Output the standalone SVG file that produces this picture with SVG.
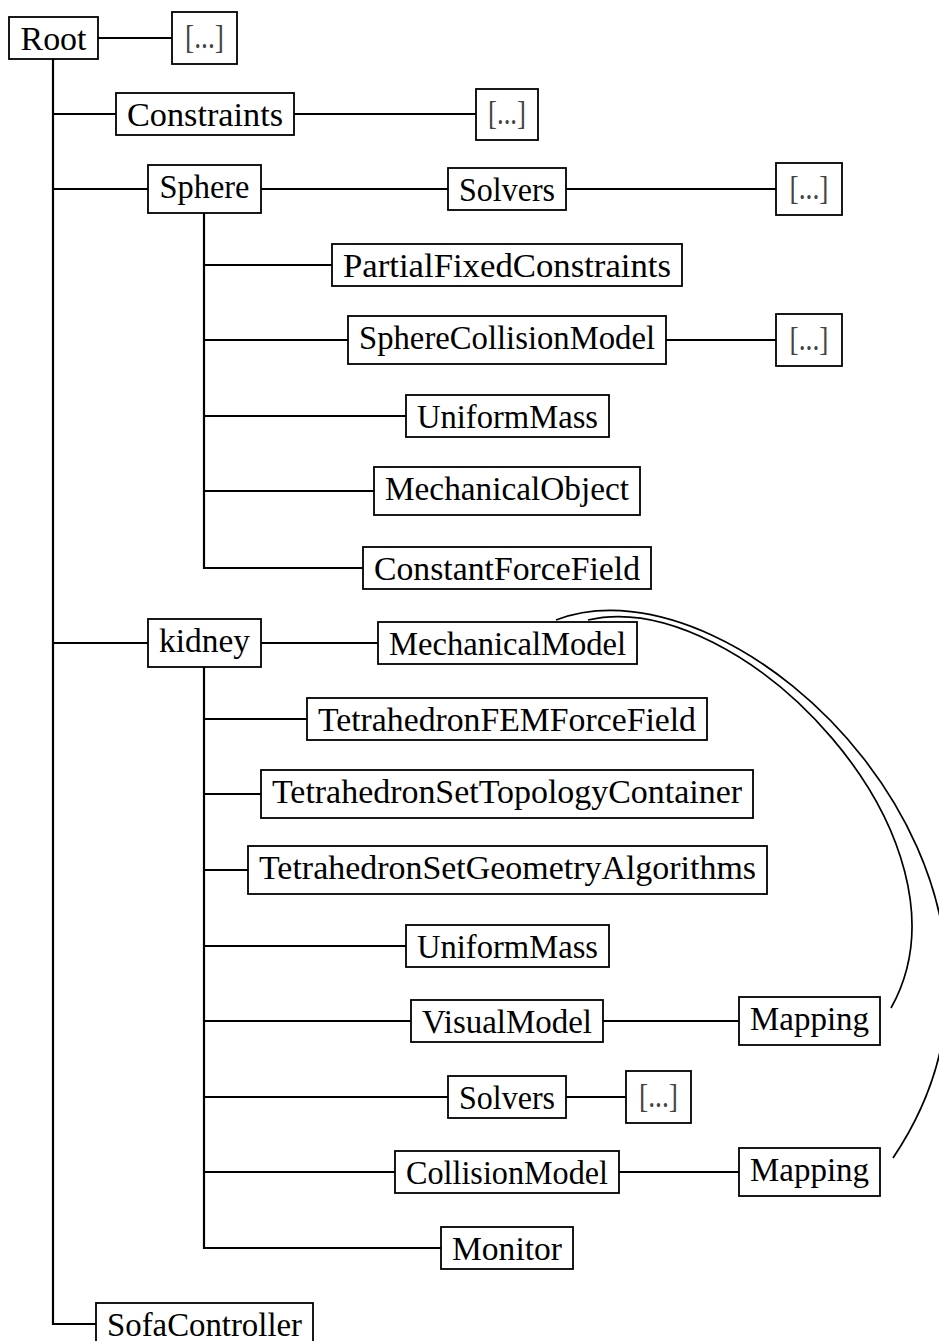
<svg xmlns="http://www.w3.org/2000/svg" width="939" height="1341" viewBox="0 0 939 1341">
<style>
.box{fill:#fff;stroke:#000;stroke-width:1.8}
.ln{fill:none;stroke:#000;stroke-width:2.2}
.cv{fill:none;stroke:#000;stroke-width:1.7}
.t{font-family:"Liberation Serif","Times New Roman",serif;font-size:33px;text-anchor:middle;fill:#000}
.d{font-family:"Liberation Serif","Times New Roman",serif;font-size:33px;text-anchor:middle;fill:#444}
</style>
<rect width="939" height="1341" fill="#fff"/>
<g id="connectors">
<path class="ln" d="M53,59 V1324 H96 M98,38 H172 M53,114 H116 M294,114 H476 M53,189 H148 M261,189 H448 M566,189 H776 M204,213 V568 H363 M204,265 H332 M204,340 H348 M666,340 H776 M204,416 H406 M204,491 H374 M53,643 H148 M261,643 H378 M204,667 V1248 H441 M204,719 H307 M204,794 H261 M204,870 H248 M204,946 H406 M204,1021 H411 M603,1021 H739 M204,1097 H448 M566,1097 H626 M204,1172 H395 M619,1172 H739"/>
<path class="cv" d="M588,620 C740,585 985,840 891,1008"/>
<path class="cv" d="M556,620 C740,550 1080,880 893,1158"/>
</g>
<g id="root"><rect class="box" x="9" y="17" width="89" height="42"/><text class="t" x="53.5" y="50" textLength="66" lengthAdjust="spacingAndGlyphs">Root</text></g>
<g id="root-more"><rect class="box" x="172" y="12" width="65" height="52"/><text class="d" x="204.5" y="48" textLength="39" lengthAdjust="spacingAndGlyphs">[...]</text></g>
<g id="constraints"><rect class="box" x="116" y="93" width="178" height="42"/><text class="t" x="205" y="126" textLength="156" lengthAdjust="spacingAndGlyphs">Constraints</text></g>
<g id="constraints-more"><rect class="box" x="476" y="89" width="62" height="51"/><text class="d" x="507" y="124" textLength="38" lengthAdjust="spacingAndGlyphs">[...]</text></g>
<g id="sphere"><rect class="box" x="148" y="165" width="113" height="48"/><text class="t" x="204.5" y="198" textLength="90" lengthAdjust="spacingAndGlyphs">Sphere</text></g>
<g id="sphere-solvers"><rect class="box" x="448" y="168" width="118" height="42"/><text class="t" x="507" y="201" textLength="96" lengthAdjust="spacingAndGlyphs">Solvers</text></g>
<g id="sphere-solvers-more"><rect class="box" x="776" y="163" width="66" height="52"/><text class="d" x="809" y="199" textLength="39" lengthAdjust="spacingAndGlyphs">[...]</text></g>
<g id="partial-fixed"><rect class="box" x="332" y="244" width="350" height="42"/><text class="t" x="507" y="277" textLength="328" lengthAdjust="spacingAndGlyphs">PartialFixedConstraints</text></g>
<g id="sphere-collision"><rect class="box" x="348" y="316" width="318" height="48"/><text class="t" x="507" y="349" textLength="296" lengthAdjust="spacingAndGlyphs">SphereCollisionModel</text></g>
<g id="sphere-collision-more"><rect class="box" x="776" y="314" width="66" height="52"/><text class="d" x="809" y="350" textLength="39" lengthAdjust="spacingAndGlyphs">[...]</text></g>
<g id="sphere-mass"><rect class="box" x="406" y="395" width="203" height="42"/><text class="t" x="507.5" y="428" textLength="181" lengthAdjust="spacingAndGlyphs">UniformMass</text></g>
<g id="sphere-mo"><rect class="box" x="374" y="467" width="266" height="48"/><text class="t" x="507" y="500" textLength="244" lengthAdjust="spacingAndGlyphs">MechanicalObject</text></g>
<g id="sphere-cff"><rect class="box" x="363" y="547" width="288" height="42"/><text class="t" x="507" y="580" textLength="266" lengthAdjust="spacingAndGlyphs">ConstantForceField</text></g>
<g id="kidney"><rect class="box" x="148" y="619" width="113" height="48"/><text class="t" x="204.5" y="652" textLength="91" lengthAdjust="spacingAndGlyphs">kidney</text></g>
<g id="kidney-mm"><rect class="box" x="378" y="622" width="259" height="42"/><text class="t" x="507.5" y="655" textLength="237" lengthAdjust="spacingAndGlyphs">MechanicalModel</text></g>
<g id="kidney-fem"><rect class="box" x="307" y="698" width="400" height="42"/><text class="t" x="507" y="731" textLength="378" lengthAdjust="spacingAndGlyphs">TetrahedronFEMForceField</text></g>
<g id="kidney-topo"><rect class="box" x="261" y="770" width="492" height="48"/><text class="t" x="507" y="803" textLength="470" lengthAdjust="spacingAndGlyphs">TetrahedronSetTopologyContainer</text></g>
<g id="kidney-geom"><rect class="box" x="248" y="846" width="519" height="48"/><text class="t" x="507.5" y="879" textLength="497" lengthAdjust="spacingAndGlyphs">TetrahedronSetGeometryAlgorithms</text></g>
<g id="kidney-mass"><rect class="box" x="406" y="925" width="203" height="42"/><text class="t" x="507.5" y="958" textLength="181" lengthAdjust="spacingAndGlyphs">UniformMass</text></g>
<g id="kidney-visual"><rect class="box" x="411" y="1000" width="192" height="42"/><text class="t" x="507" y="1033" textLength="170" lengthAdjust="spacingAndGlyphs">VisualModel</text></g>
<g id="visual-mapping"><rect class="box" x="739" y="997" width="141" height="48"/><text class="t" x="809.5" y="1030" textLength="119" lengthAdjust="spacingAndGlyphs">Mapping</text></g>
<g id="kidney-solvers"><rect class="box" x="448" y="1076" width="118" height="42"/><text class="t" x="507" y="1109" textLength="96" lengthAdjust="spacingAndGlyphs">Solvers</text></g>
<g id="kidney-solvers-more"><rect class="box" x="626" y="1071" width="65" height="52"/><text class="d" x="658.5" y="1107" textLength="39" lengthAdjust="spacingAndGlyphs">[...]</text></g>
<g id="kidney-collision"><rect class="box" x="395" y="1151" width="224" height="42"/><text class="t" x="507" y="1184" textLength="202" lengthAdjust="spacingAndGlyphs">CollisionModel</text></g>
<g id="collision-mapping"><rect class="box" x="739" y="1148" width="141" height="48"/><text class="t" x="809.5" y="1181" textLength="119" lengthAdjust="spacingAndGlyphs">Mapping</text></g>
<g id="kidney-monitor"><rect class="box" x="441" y="1227" width="132" height="42"/><text class="t" x="507" y="1260" textLength="110" lengthAdjust="spacingAndGlyphs">Monitor</text></g>
<g id="sofa-controller"><rect class="box" x="96" y="1303" width="217" height="44"/><text class="t" x="204.5" y="1336" textLength="195" lengthAdjust="spacingAndGlyphs">SofaController</text></g>
</svg>
